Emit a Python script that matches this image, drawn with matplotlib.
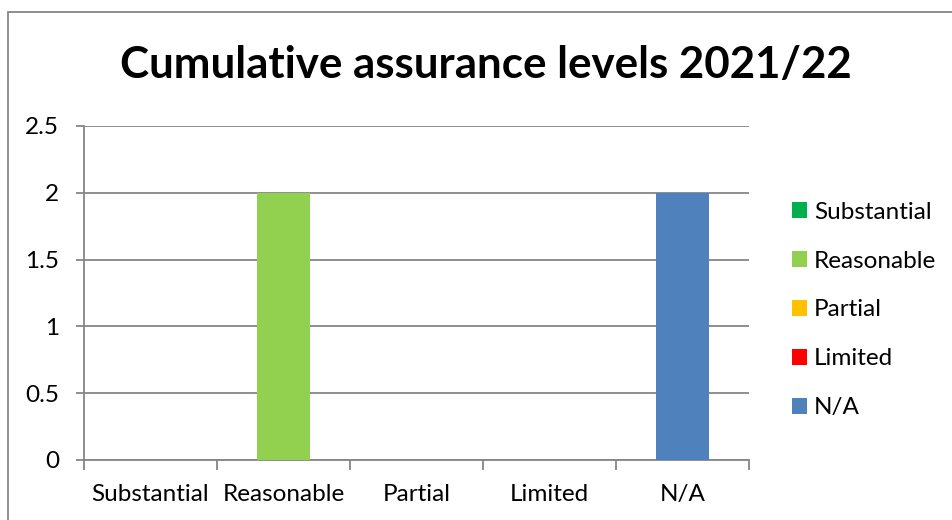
import matplotlib.pyplot as plt
from matplotlib.patches import Patch, Rectangle

plt.rcParams["font.family"] = ["Lato", "DejaVu Sans"]

categories = ["Substantial", "Reasonable", "Partial", "Limited", "N/A"]
values = [0, 2, 0, 0, 2]
colors = ["#00B050", "#92D050", "#FFC000", "#FF0000", "#4F81BD"]
yticks = [0, 0.5, 1, 1.5, 2, 2.5]
ytick_labels = ["0", "0.5", "1", "1.5", "2", "2.5"]

grey = "#868686"

fig = plt.figure(figsize=(9.52, 5.2), dpi=100)
ax = fig.add_axes([84 / 952, 1 - 460 / 520, (749 - 84) / 952, (460 - 126) / 520])

x = range(len(categories))
ax.bar(x, values, width=0.4, color=colors, zorder=3)

ax.set_xlim(-0.5, len(categories) - 0.5)
ax.set_ylim(0, 2.5)
ax.set_yticks(yticks)
ax.set_yticklabels(ytick_labels, fontsize=17.5)
ax.set_xticks(list(x))
ax.set_xticklabels(categories, fontsize=17.5)
ax.tick_params(axis="x", length=0, pad=17)
ax.tick_params(axis="y", length=6, width=1.3, color=grey, pad=12)

# boundary ticks between categories
ax.set_xticks([i - 0.5 for i in range(len(categories) + 1)], minor=True)
ax.tick_params(axis="x", which="minor", length=7, width=1.3, color=grey)

ax.yaxis.grid(True, color=grey, linewidth=1.3, zorder=0)
for side in ["top", "right"]:
    ax.spines[side].set_visible(False)
for side in ["left", "bottom"]:
    ax.spines[side].set_color(grey)
    ax.spines[side].set_linewidth(1.3)

fig.text(486 / 952, 1 - 65 / 520, "Cumulative assurance levels 2021/22",
         ha="center", va="center", fontsize=31.6, fontweight="bold")

handles = [Patch(facecolor=c, edgecolor="none") for c in colors]
fig.legend(handles, categories, loc="center left", bbox_to_anchor=(792 / 952, 1 - 310 / 520),
           frameon=False, fontsize=17.5, handlelength=0.6, handleheight=0.6,
           handletextpad=0.3, labelspacing=1.15, borderaxespad=0, borderpad=0)

# chart outline
fig.patches.append(Rectangle((8 / 952, -0.1), 1.1, 1 - 12 / 520 + 0.1,
                             transform=fig.transFigure, fill=False,
                             edgecolor=grey, linewidth=1.3))

fig.savefig("out.png", dpi=100)
